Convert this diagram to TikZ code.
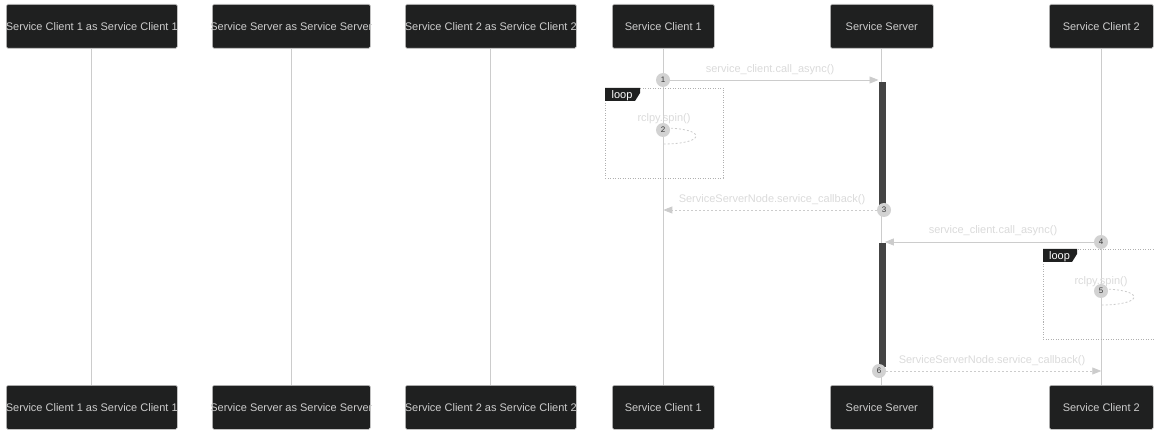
\documentclass[tikz,border=0pt]{standalone}
\usepackage{fontspec}
\setmainfont{Liberation Sans}
\usetikzlibrary{arrows.meta,calc}
\definecolor{boxfill}{HTML}{1F2020}
\definecolor{boxline}{HTML}{CCCCCC}
\definecolor{boxtext}{HTML}{CCCCCC}
\definecolor{lifeline}{HTML}{CCCCCC}
\definecolor{msgtext}{HTML}{DADADA}
\definecolor{numfill}{HTML}{D2D2D2}
\definecolor{numtext}{HTML}{333333}
\definecolor{barfill}{HTML}{444444}
\definecolor{loopline}{HTML}{B0B0B0}
\tikzset{
  actor/.style={draw=boxline, fill=boxfill, line width=0.6pt, rounded corners=1.5pt,
    minimum height=44pt, minimum width=#1, inner sep=0pt, text=boxtext,
    font=\fontsize{11}{13}\selectfont, anchor=north west},
  life/.style={draw=lifeline, line width=0.8pt},
  actbar/.style={draw=barfill, fill=barfill, line width=0.3pt, minimum width=6pt, inner sep=0pt, anchor=north west},
  num/.style={circle, fill=numfill, minimum size=14pt, inner sep=0pt, text=numtext,
    font=\fontsize{8}{9}\selectfont},
  msg/.style={draw=lifeline, line width=0.8pt, -{Triangle[length=9pt,width=7pt,fill=lifeline]}},
  reply/.style={draw=lifeline, line width=0.8pt, dash pattern=on 2pt off 2pt, -{Triangle[length=9pt,width=7pt,fill=lifeline]}},
  selfmsg/.style={draw=lifeline, line width=0.8pt, dash pattern=on 2pt off 2pt},
  msglabel/.style={text=msgtext, font=\fontsize{11}{13}\selectfont, inner sep=0pt},
  loopbox/.style={draw=loopline, line width=0.8pt, dash pattern=on 1pt off 1.5pt},
  looptext/.style={text=white, font=\fontsize{11}{13}\selectfont, inner sep=0pt},
}
\newcommand{\wide}[1]{\makebox[20pt][c]{#1}}
\begin{document}
\begin{tikzpicture}[x=1pt,y=-1pt]
\useasboundingbox (0,0) rectangle (1154,430);
% top actors
\node[actor=171pt] (t1) at (6,4) {\wide{Service Client 1 as Service Client 1}};
\node[actor=158pt] (t2) at (212,4) {\wide{Service Server as Service Server}};
\node[actor=171pt] (t3) at (405,4) {\wide{Service Client 2 as Service Client 2}};
\node[actor=102pt] (t4) at (612,4) {Service Client 1};
\node[actor=103pt] (t5) at (830,4) {Service Server};
\node[actor=104pt] (t6) at (1049,4) {Service Client 2};
% bottom actors
\node[actor=171pt] (b1) at (6,385) {\wide{Service Client 1 as Service Client 1}};
\node[actor=158pt] (b2) at (212,385) {\wide{Service Server as Service Server}};
\node[actor=171pt] (b3) at (405,385) {\wide{Service Client 2 as Service Client 2}};
\node[actor=102pt] (b4) at (612,385) {Service Client 1};
\node[actor=103pt] (b5) at (830,385) {Service Server};
\node[actor=104pt] (b6) at (1049,385) {Service Client 2};
% lifelines
\foreach \i in {1,...,6} { \draw[life] (t\i.south) -- (b\i.north); }
% activation bars
\node[actbar, minimum height=124pt] (bar1) at (878.5,82) {};
\node[actbar, minimum height=123pt] (bar2) at (878.5,243) {};
% loop 1
\draw[loopbox] (605,88) rectangle (723,178);
\fill[boxfill] (605,88) -- (640,88) -- (640,93) -- (635,101) -- (605,101) -- cycle;
\node[looptext] (loop1) at (622,96) {loop};
% loop 2
\draw[loopbox] (1043,249) rectangle (1162,339);
\fill[boxfill] (1043,249) -- (1077,249) -- (1077,254) -- (1072,262) -- (1043,262) -- cycle;
\node[looptext] (loop2) at (1059.5,257) {loop};
% message 1
\node[num] (c1) at (663,80) {1};
\draw[msg] (c1.east) -- (c1 -| bar1.west);
\node[msglabel] (l1) at (770,70) {service\_client.call\_async()};
% self 2
\coordinate (s2a) at (663,128);
\coordinate (s2b) at (663,144);
\draw[selfmsg] (s2a) .. controls (707,128) and (707,144) .. (s2b);
\node[num] (c2) at (663,130) {2};
\node[msglabel] (l2) at (664,119) {rclpy.spin()};
% reply 3
\node[num] (c3) at (884,210) {3};
\draw[reply] (c3.west) -- (c3 -| t4.south);
\node[msglabel] (l3) at (772,200) {ServiceServerNode.service\_callback()};
% message 4
\node[num] (c4) at (1101,242) {4};
\draw[msg] (c4.west) -- (c4 -| bar2.east);
\node[msglabel] (l4) at (993,231) {service\_client.call\_async()};
% self 5
\coordinate (s5a) at (1101,289);
\coordinate (s5b) at (1101,305);
\draw[selfmsg] (s5a) .. controls (1145,289) and (1145,305) .. (s5b);
\node[num] (c5) at (1101,291) {5};
\node[msglabel] (l5) at (1101,282) {rclpy.spin()};
% reply 6
\node[num] (c6) at (879,371) {6};
\draw[reply] (c6.east) -- (c6 -| t6.south);
\node[msglabel] (l6) at (992,361) {ServiceServerNode.service\_callback()};
\end{tikzpicture}
\end{document}
